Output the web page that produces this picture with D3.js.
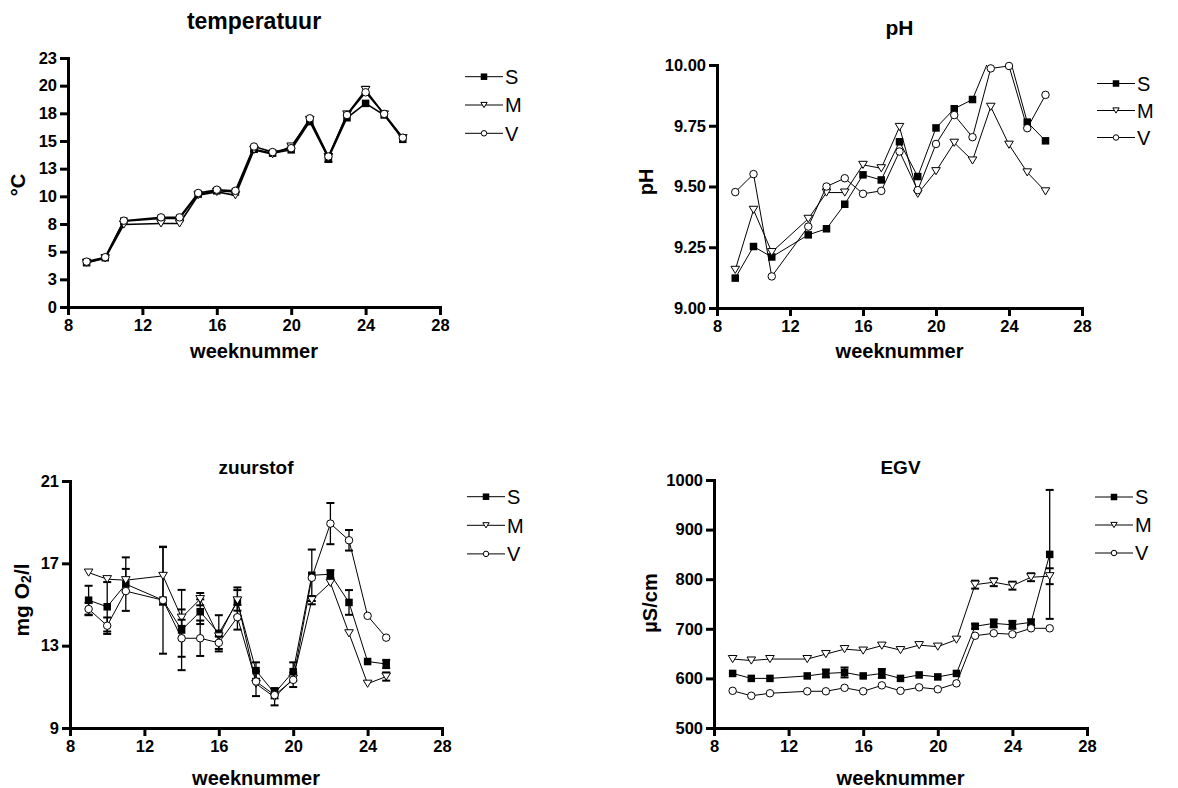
<!DOCTYPE html>
<html>
<head>
<meta charset="utf-8">
<script src="https://cdn.jsdelivr.net/npm/d3@7"></script>
<style>
  body { margin: 0; background: #fff; }
  svg { font-family: "Liberation Sans", Arial, sans-serif; }
</style>
</head>
<body>
<svg id="chart" width="1178" height="788"></svg>
<script>
// ---- data ----
const seriesNames = ['S', 'M', 'V'];
const markerTypes = ['square', 'triangle', 'circle'];
const xTicks = [8, 12, 16, 20, 24, 28];

const weeks = [9, 10, 11, 13, 14, 15, 16, 17, 18, 19, 20, 21, 22, 23, 24, 25, 26];
const weeksO2 = [9, 10, 11, 13, 14, 15, 16, 17, 18, 19, 20, 21, 22, 23, 24, 25];

// temperatuur
const tempTicks = [0, 2.5, 5, 7.5, 10, 12.5, 15, 17.5, 20, 22.5];
const tempTickLabels = ['0', '3', '5', '8', '10', '13', '15', '18', '20', '23'];
const tempS = [4.0, 4.45, 7.75, 8.0, 8.0, 10.2, 10.5, 10.4, 14.25, 13.9, 14.2, 16.75, 13.45, 17.1, 18.4, 17.35, 15.15];
const tempM = [4.0, 4.4, 7.45, 7.55, 7.55, 10.1, 10.4, 10.1, 14.2, 13.8, 14.5, 16.9, 13.55, 17.4, 19.6, 17.4, 15.25];
const tempV = [4.1, 4.5, 7.8, 8.1, 8.1, 10.3, 10.6, 10.5, 14.5, 14.0, 14.35, 17.05, 13.6, 17.35, 19.4, 17.45, 15.3];
const tempErrS = [null, null, null, null, null, null, null, null, 0.2, null, null, null, 0.35, null, null, null, null];
const tempErrM = [null, null, null, null, null, null, null, null, null, null, 0.2, null, null, null, 0.3, null, null];
const tempErrV = weeks.map(() => null);

// pH
const phTicks = [9, 9.25, 9.5, 9.75, 10];
const phTickLabels = ['9.00', '9.25', '9.50', '9.75', '10.00'];
const phS = [9.123, 9.253, 9.21, 9.301, 9.326, 9.427, 9.548, 9.527, 9.684, 9.541, 9.741, 9.82, 9.858, 10.04, 10.04, 9.765, 9.688];
const phM = [9.157, 9.404, 9.23, 9.367, 9.475, 9.475, 9.589, 9.575, 9.745, 9.47, 9.563, 9.68, 9.607, 9.828, 9.672, 9.558, 9.48];
const phV = [9.477, 9.551, 9.13, 9.335, 9.5, 9.534, 9.47, 9.482, 9.644, 9.485, 9.675, 9.794, 9.703, 9.986, 9.996, 9.74, 9.877];
const phErr = weeks.map(() => null);

// zuurstof
const o2Ticks = [9, 13, 17, 21];
const o2TickLabels = ['9', '13', '17', '21'];
const o2S = [15.21, 14.89, 15.99, 15.21, 13.76, 14.65, 13.6, 15.13, 11.79, 10.69, 11.74, 16.42, 16.47, 15.1, 12.23, 12.11];
const o2M = [16.55, 16.23, 16.18, 16.39, 14.36, 15.26, 13.45, 15.2, 11.15, 10.5, 11.4, 15.21, 16.05, 13.6, 11.15, 11.5];
const o2V = [14.78, 13.97, 15.65, 15.21, 13.36, 13.36, 13.14, 14.38, 11.26, 10.6, 11.34, 16.3, 18.93, 18.12, 14.45, 13.39];
const o2ErrS = [0.7, 1.2, 1.3, 2.6, 1.95, 0.6, 0.88, 0.7, 0.4, 0.25, 0.45, 1.25, 0.2, 0.6, null, 0.2];
const o2ErrM = [null, null, 0.55, 1.4, 0.4, 0.3, null, 0.5, 0.6, 0.4, null, 0.2, null, null, null, 0.2];
const o2ErrV = [0.3, 0.4, null, null, 0.9, 0.86, 0.3, 0.6, null, null, 0.35, null, 1.0, 0.5, null, null];

// EGV
const egvTicks = [500, 600, 700, 800, 900, 1000];
const egvTickLabels = ['500', '600', '700', '800', '900', '1000'];
const egvS = [610, 600, 600, 605, 610, 612, 605, 610, 600, 607, 603, 610, 705, 711, 708, 713, 850];
const egvM = [639, 636, 639, 639, 649, 659, 656, 666, 657, 667, 664, 678, 789, 794, 787, 804, 806];
const egvV = [575, 565, 570, 574, 574, 581, 574, 586, 575, 582, 578, 590, 686, 691, 689, 701, 701];
const egvErrS = [null, null, null, null, 8, 10, null, 9, null, null, null, null, 5, 8, 8, 6, 130];
const egvErrM = [null, null, null, null, null, null, null, null, null, null, null, null, 8, 8, 8, 8, 16];
const egvErrV = weeks.map(() => null);

// ---- layout ----
const panels = [
  {id: 'temp', title: 'temperatuur', titleY: 29, titleSize: 23, yLabel: ['°C'], yLabelX: 18, yLabelY: 185,
   x0: 68, x1: 440, top: 58, bottom: 307, domain: [0, 22.5], ticks: tempTicks, tickLabels: tempTickLabels,
   weeks: weeks, values: [tempS, tempM, tempV], errors: [tempErrS, tempErrM, tempErrV],
   xLabelY: 358, legendX: 465, legendY: 76.7, legendStep: 28.3, lineWidth: 1.6},
  {id: 'ph', title: 'pH', titleY: 35, titleSize: 21, yLabel: ['pH'], yLabelX: 646, yLabelY: 182,
   x0: 717, x1: 1082, top: 65, bottom: 308, domain: [9, 10], ticks: phTicks, tickLabels: phTickLabels,
   weeks: weeks, values: [phS, phM, phV], errors: [phErr, phErr, phErr],
   xLabelY: 358, legendX: 1097, legendY: 83.5, legendStep: 27, lineWidth: 1},
  {id: 'o2', title: 'zuurstof', titleY: 474, titleSize: 19, yLabel: null, yLabelX: 21, yLabelY: 600,
   x0: 70, x1: 442, top: 481, bottom: 728, domain: [9, 21], ticks: o2Ticks, tickLabels: o2TickLabels,
   weeks: weeksO2, values: [o2S, o2M, o2V], errors: [o2ErrS, o2ErrM, o2ErrV],
   xLabelY: 785, legendX: 467, legendY: 496.7, legendStep: 28.6, lineWidth: 1},
  {id: 'egv', title: 'EGV', titleY: 474, titleSize: 19, yLabel: ['µS/cm'], yLabelX: 650, yLabelY: 603,
   x0: 714, x1: 1087, top: 480, bottom: 728, domain: [500, 1000], ticks: egvTicks, tickLabels: egvTickLabels,
   weeks: weeks, values: [egvS, egvM, egvV], errors: [egvErrS, egvErrM, egvErrV],
   xLabelY: 785, legendX: 1095, legendY: 497, legendStep: 28, lineWidth: 1}
];

const svg = d3.select('#chart');

function drawMarker(sel, type, cx, cy, s) {
  if (type === 'square') {
    sel.append('rect')
      .attr('x', cx - s / 2).attr('y', cy - s / 2)
      .attr('width', s).attr('height', s)
      .attr('fill', '#000');
  } else if (type === 'triangle') {
    const w = s * 1.15, h = s * 0.95;
    sel.append('path')
      .attr('d', `M${cx - w / 2},${cy - h / 2}L${cx + w / 2},${cy - h / 2}L${cx},${cy + h / 2}Z`)
      .attr('fill', '#fff').attr('stroke', '#000').attr('stroke-width', 1);
  } else {
    sel.append('circle')
      .attr('cx', cx).attr('cy', cy).attr('r', s / 2)
      .attr('fill', '#fff').attr('stroke', '#000').attr('stroke-width', 1);
  }
}

function drawPanel(p) {
  const x = d3.scaleLinear().domain([8, 28]).range([p.x0, p.x1]);
  const y = d3.scaleLinear().domain(p.domain).range([p.bottom, p.top]);
  const g = svg.append('g').attr('class', 'panel-' + p.id);

  const clipId = 'clip-' + p.id;
  svg.append('clipPath').attr('id', clipId).append('rect')
    .attr('x', p.x0 - 20).attr('y', p.top)
    .attr('width', p.x1 - p.x0 + 40).attr('height', p.bottom - p.top + 20);

  // series: line, error bars, markers (S, M, V in order)
  p.values.forEach((vals, si) => {
    const pts = p.weeks.map((w, i) => ({w: w, v: vals[i], e: p.errors[si][i]}));
    g.append('path').datum(pts)
      .attr('clip-path', `url(#${clipId})`)
      .attr('d', d3.line().x(d => x(d.w)).y(d => y(d.v)))
      .attr('fill', 'none').attr('stroke', '#000').attr('stroke-width', p.lineWidth);

    pts.filter(d => d.e != null).forEach(d => {
      const cx = x(d.w);
      g.append('line')
        .attr('x1', cx).attr('x2', cx).attr('y1', y(d.v - d.e)).attr('y2', y(d.v + d.e))
        .attr('stroke', '#000').attr('stroke-width', 1.3);
      [d.v - d.e, d.v + d.e].forEach(v => {
        g.append('line')
          .attr('x1', cx - 4).attr('x2', cx + 4).attr('y1', y(v)).attr('y2', y(v))
          .attr('stroke', '#000').attr('stroke-width', 2);
      });
    });

    pts.filter(d => d.v >= p.domain[0] && d.v <= p.domain[1]).forEach(d => {
      drawMarker(g, markerTypes[si], x(d.w), y(d.v), 7.5);
    });
  });

  // axes
  const yAxis = d3.axisLeft(y)
    .tickValues(p.ticks)
    .tickFormat((d, i) => p.tickLabels[i])
    .tickSize(8).tickSizeOuter(0).tickPadding(3);
  const xAxis = d3.axisBottom(x)
    .tickValues(xTicks)
    .tickSize(8).tickSizeOuter(0).tickPadding(4);

  const ya = g.append('g').attr('transform', `translate(${p.x0},0)`).call(yAxis);
  const xa = g.append('g').attr('transform', `translate(0,${p.bottom})`).call(xAxis);
  [ya, xa].forEach(a => {
    a.attr('font-family', null).attr('font-size', null);
    a.select('.domain').attr('stroke-width', 3).attr('stroke-linecap', 'square');
    a.selectAll('.tick line').attr('stroke-width', 3);
    a.selectAll('.tick text')
      .attr('font-size', 16.5).attr('font-weight', 'bold').attr('fill', '#000');
  });

  // title
  svg.append('text')
    .attr('x', (p.x0 + p.x1) / 2).attr('y', p.titleY)
    .attr('text-anchor', 'middle')
    .attr('font-size', p.titleSize).attr('font-weight', 'bold')
    .text(p.title);

  // x label
  svg.append('text')
    .attr('x', (p.x0 + p.x1) / 2).attr('y', p.xLabelY)
    .attr('text-anchor', 'middle')
    .attr('font-size', 20).attr('font-weight', 'bold')
    .text('weeknummer');

  // y label
  const yl = svg.append('text')
    .attr('transform', `translate(${p.yLabelX},${p.yLabelY}) rotate(-90)`)
    .attr('text-anchor', 'middle').attr('dominant-baseline', 'central')
    .attr('font-size', 20).attr('font-weight', 'bold');
  if (p.yLabel) {
    yl.text(p.yLabel[0]);
  } else {
    yl.attr('font-size', 21);
    yl.append('tspan').text('mg O');
    yl.append('tspan').attr('font-size', 14).attr('dy', 5).text('2');
    yl.append('tspan').attr('dy', -5).text('/l');
  }

  // legend
  seriesNames.forEach((name, si) => {
    const ly = p.legendY + si * p.legendStep;
    g.append('line')
      .attr('x1', p.legendX).attr('x2', p.legendX + 38)
      .attr('y1', ly).attr('y2', ly)
      .attr('stroke', '#000').attr('stroke-width', 1);
    drawMarker(g, markerTypes[si], p.legendX + 19, ly, si === 0 ? 6.5 : 5.5);
    g.append('text')
      .attr('x', p.legendX + 40).attr('y', ly + 7.3)
      .attr('font-size', 20)
      .text(name);
  });
}

panels.forEach(drawPanel);
</script>
</body>
</html>
